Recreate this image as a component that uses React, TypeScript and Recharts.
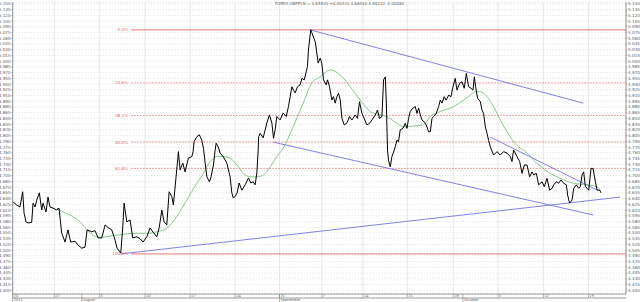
import { LineChart, Line, XAxis, YAxis, CartesianGrid, ReferenceLine } from "recharts"

// GBP/PLN, trading days counted from 20 July 2011
const price: [number, number][] = [
  [0, 4.632], [0.44, 4.623], [0.81, 4.618], [1.11, 4.658], [1.26, 4.602], [1.48, 4.579], [1.7, 4.576],
  [2.11, 4.578], [2.26, 4.628], [2.48, 4.618], [2.67, 4.636], [2.96, 4.655], [3.22, 4.61], [3.37, 4.628],
  [3.7, 4.605], [3.92, 4.644], [4.14, 4.618], [4.48, 4.615], [4.89, 4.61], [5.14, 4.615], [5.44, 4.55],
  [5.81, 4.526], [6.14, 4.558], [6.44, 4.526], [6.92, 4.528], [7.26, 4.518], [7.67, 4.51], [8.03, 4.513],
  [8.26, 4.558], [8.78, 4.553], [9.14, 4.556], [9.48, 4.537], [9.89, 4.537], [10.26, 4.571], [10.59, 4.564],
  [11.0, 4.558], [11.37, 4.531], [11.59, 4.51], [12.0, 4.497], [12.22, 4.566], [12.37, 4.628], [12.67, 4.579],
  [13.03, 4.584], [13.33, 4.537], [13.78, 4.54], [14.14, 4.535], [14.48, 4.526], [14.89, 4.54], [15.26, 4.563],
  [15.59, 4.552], [16.0, 4.54], [16.26, 4.563], [16.56, 4.61], [16.81, 4.579], [17.11, 4.571], [17.37, 4.658],
  [17.67, 4.645], [17.84, 4.623], [18.14, 4.697], [18.4, 4.763], [18.59, 4.715], [18.89, 4.733], [19.14, 4.71],
  [19.51, 4.746], [19.89, 4.75], [20.03, 4.763], [20.14, 4.789], [20.44, 4.802], [20.73, 4.807], [21.0, 4.793],
  [21.18, 4.772], [21.37, 4.733], [21.56, 4.697], [21.84, 4.684], [22.0, 4.694], [22.29, 4.728], [22.48, 4.767],
  [22.59, 4.785], [22.81, 4.776], [23.03, 4.759], [23.37, 4.75], [23.78, 4.733], [24.14, 4.697], [24.33, 4.655],
  [24.48, 4.642], [24.7, 4.645], [24.92, 4.655], [25.14, 4.681], [25.44, 4.662], [25.81, 4.676], [26.18, 4.694],
  [26.44, 4.681], [26.7, 4.684], [26.92, 4.676], [27.11, 4.707], [27.26, 4.767], [27.31, 4.802], [27.48, 4.811],
  [27.81, 4.799], [28.22, 4.838], [28.51, 4.859], [28.78, 4.838], [28.96, 4.798], [29.14, 4.82], [29.33, 4.855],
  [29.7, 4.846], [30.03, 4.864], [30.37, 4.855], [30.62, 4.881], [30.81, 4.907], [31.0, 4.933], [31.18, 4.924],
  [31.37, 4.917], [31.62, 4.933], [31.92, 4.938], [32.11, 4.955], [32.37, 4.951], [32.59, 4.972], [32.73, 4.986],
  [32.84, 5.029], [33.09, 5.082], [33.22, 5.074], [33.59, 5.051], [33.92, 4.995], [34.14, 5.008], [34.33, 4.994],
  [34.51, 4.951], [34.81, 4.938], [34.96, 4.951], [35.18, 4.933], [35.44, 4.898], [35.62, 4.907], [35.81, 4.89],
  [36.0, 4.907], [36.18, 4.916], [36.37, 4.898], [36.56, 4.85], [36.81, 4.833], [37.11, 4.838], [37.4, 4.855],
  [37.67, 4.846], [38.03, 4.859], [38.29, 4.85], [38.51, 4.894], [38.78, 4.863], [39.03, 4.85], [39.33, 4.833],
  [39.62, 4.837], [39.89, 4.846], [40.26, 4.859], [40.51, 4.872], [40.73, 4.85], [41.0, 4.855], [41.18, 4.951],
  [41.37, 4.959], [41.48, 4.898], [41.62, 4.767], [41.73, 4.741], [41.92, 4.723], [42.11, 4.75], [42.37, 4.767],
  [42.48, 4.776], [42.67, 4.793], [42.84, 4.789], [43.03, 4.82], [43.33, 4.824], [43.59, 4.837], [43.78, 4.824],
  [43.96, 4.85], [44.14, 4.868], [44.44, 4.877], [44.7, 4.881], [44.89, 4.863], [45.07, 4.877], [45.26, 4.859],
  [45.44, 4.846], [45.7, 4.841], [45.92, 4.833], [46.18, 4.815], [46.37, 4.815], [46.56, 4.85], [46.73, 4.855],
  [47.03, 4.863], [47.29, 4.881], [47.48, 4.898], [47.67, 4.89], [47.92, 4.907], [48.14, 4.898], [48.4, 4.911],
  [48.67, 4.907], [48.89, 4.933], [49.14, 4.955], [49.33, 4.924], [49.62, 4.942], [49.89, 4.946], [50.14, 4.929],
  [50.37, 4.968], [50.62, 4.933], [50.89, 4.929], [51.11, 4.924], [51.26, 4.959], [51.4, 4.933], [51.62, 4.903],
  [51.92, 4.894], [52.11, 4.872], [52.29, 4.863], [52.48, 4.828], [52.67, 4.811], [52.84, 4.793], [53.03, 4.776],
  [53.4, 4.754], [53.78, 4.763], [54.14, 4.754], [54.51, 4.763], [54.89, 4.759], [55.26, 4.75], [55.44, 4.737],
  [55.62, 4.767], [56.0, 4.75], [56.29, 4.737], [56.56, 4.706], [56.81, 4.728], [57.11, 4.728], [57.4, 4.697],
  [57.67, 4.71], [57.84, 4.702], [58.14, 4.706], [58.4, 4.676], [58.78, 4.684], [59.03, 4.671], [59.33, 4.693],
  [59.62, 4.662], [59.89, 4.667], [60.07, 4.676], [60.37, 4.684], [60.62, 4.68], [60.89, 4.689], [61.18, 4.68],
  [61.48, 4.676], [61.62, 4.649], [61.84, 4.628], [62.11, 4.636], [62.29, 4.667], [62.59, 4.676], [62.84, 4.667],
  [63.03, 4.671], [63.22, 4.702], [63.4, 4.71], [63.59, 4.671], [63.78, 4.667], [63.96, 4.662], [64.22, 4.719],
  [64.44, 4.719], [64.7, 4.684], [64.89, 4.662], [65.18, 4.662], [65.33, 4.655],
]

const movingAvg: [number, number][] = [
  [4.89, 4.615], [5.26, 4.61], [5.81, 4.602], [6.37, 4.597], [7.48, 4.579], [8.59, 4.55], [9.33, 4.54],
  [10.07, 4.539], [10.81, 4.542], [11.92, 4.545], [13.4, 4.549], [14.89, 4.549], [16.0, 4.553], [17.11, 4.562],
  [18.22, 4.593], [19.33, 4.636], [20.44, 4.68], [21.18, 4.706], [21.92, 4.737], [22.67, 4.75], [23.4, 4.75],
  [24.14, 4.746], [24.89, 4.728], [25.62, 4.706], [26.37, 4.697], [27.11, 4.697], [27.84, 4.702], [28.59, 4.723],
  [29.33, 4.75], [30.03, 4.772], [31.14, 4.828], [32.26, 4.89], [33.22, 4.943], [34.14, 4.959], [35.26, 4.977],
  [36.37, 4.964], [37.48, 4.933], [38.59, 4.898], [39.7, 4.868], [40.81, 4.859], [41.55, 4.855], [42.67, 4.837],
  [43.4, 4.828], [44.51, 4.83], [45.62, 4.833], [46.37, 4.855], [47.48, 4.868], [48.96, 4.881], [50.07, 4.898],
  [50.81, 4.911], [51.37, 4.92], [51.92, 4.92], [52.67, 4.907], [53.4, 4.881], [54.14, 4.846], [54.89, 4.815],
  [55.62, 4.789], [56.37, 4.772], [56.73, 4.767], [58.22, 4.732], [59.7, 4.706], [60.81, 4.693], [62.29, 4.68],
  [63.78, 4.676], [64.89, 4.671], [65.26, 4.662],
]

// trend lines: start and end points
const upperChannel: [number, number][] = [[33.03, 5.082], [63.37, 4.89]]
const lowerChannel: [number, number][] = [[28.92, 4.788], [64.48, 4.597]]
const supportLine: [number, number][] = [[11.98, 4.495], [67.48, 4.644]]
const shortTrend: [number, number][] = [[53.03, 4.801], [64.92, 4.662]]

const fibLabels = ["0.0%", "23.6%", "38.2%", "50.0%", "61.8%", "100.0%"]
const fibValues = [5.082, 4.943, 4.858, 4.788, 4.719, 4.495]
const fibSolid = [true, false, false, false, false, true]
const fibStart = 13.16

const dayTicks = [0, 4.62, 9.62, 14.7, 19.7, 24.7, 29.62, 34.33, 38.89, 43.81, 48.92, 53.89, 58.92, 63.92]
const dayLabels = ["20", "27", "3", "10", "17", "24", "31", "7", "14", "21", "28", "5", "12", "19"]
const monthTicks = [0, 7.67, 29.62, 50.0]
const monthLabels = ["2011", "August", "September", "October"]

const yTicks = [
  4.4, 4.415, 4.43, 4.445, 4.46, 4.475, 4.49, 4.505, 4.52, 4.535, 4.55, 4.565, 4.58, 4.595, 4.61, 4.625, 4.64,
  4.655, 4.67, 4.685, 4.7, 4.715, 4.73, 4.745, 4.76, 4.775, 4.79, 4.805, 4.82, 4.835, 4.85, 4.865, 4.88, 4.895,
  4.91, 4.925, 4.94, 4.955, 4.97, 4.985, 5.0, 5.015, 5.03, 5.045, 5.06, 5.075, 5.09, 5.105, 5.12, 5.135, 5.15,
]

const title = "FOREX GBPPLN = 4.65520 +0.00310 4.66010 4.65210 -0.00280"

const toRows = (pts: [number, number][]) => pts.map(([t, v]) => ({ t, v }))

const AXIS = "#808080"
const LABEL = "#606060"
const FIB = "#e06868"
const TREND = "#7474e0"

function DayTick({ x, y, payload, index }: any) {
  return (
    <g>
      <line x1={x} y1={y} x2={x} y2={y + 4} stroke={AXIS} strokeWidth={0.6} />
      <text x={x + 1} y={y + 3.4} fontSize={3.6} fill={LABEL} fontFamily="DejaVu Sans">
        {dayLabels[index] ?? payload.value}
      </text>
    </g>
  )
}

function MonthTick({ x, y, index }: any) {
  return (
    <g>
      <line x1={x} y1={y - 4} x2={x} y2={y + 4} stroke={AXIS} strokeWidth={0.6} />
      <text x={x + 1} y={y + 3.4} fontSize={3.6} fill={LABEL} fontFamily="DejaVu Sans">
        {monthLabels[index]}
      </text>
    </g>
  )
}

export default function App() {
  const tickStyle = { fontSize: 4.2, fill: LABEL, fontFamily: "DejaVu Sans" }
  return (
    <div style={{ position: "absolute", left: 0, top: 0, width: 640, height: 302, background: "#fff" }}>
      <div
        style={{
          position: "absolute",
          left: 275,
          top: 1,
          fontSize: 4,
          color: "#606060",
          fontFamily: "DejaVu Sans",
          whiteSpace: "nowrap",
          zIndex: 2,
        }}
      >
        {title}
      </div>
      <LineChart width={640} height={302} margin={{ top: 2, right: 0, bottom: 0, left: 0 }}>
        <XAxis
          xAxisId="d"
          type="number"
          dataKey="t"
          domain={[0, 68.1]}
          ticks={dayTicks}
          interval={0}
          height={4}
          tickSize={0}
          tickMargin={0}
          tickLine={false}
          axisLine={{ stroke: AXIS, strokeWidth: 0.8 }}
          tick={<DayTick />}
          allowDataOverflow
        />
        <XAxis
          xAxisId="m"
          type="number"
          dataKey="t"
          domain={[0, 68.1]}
          ticks={monthTicks}
          interval={0}
          height={4}
          tickSize={0}
          tickMargin={0}
          tickLine={false}
          axisLine={{ stroke: AXIS, strokeWidth: 0.8 }}
          tick={<MonthTick />}
          allowDataOverflow
        />
        <YAxis
          yAxisId="l"
          domain={[4.39, 5.155]}
          ticks={yTicks}
          interval={0}
          width={12.7}
          tickSize={1.5}
          tickMargin={0.5}
          tickFormatter={(v: number) => v.toFixed(3)}
          tick={tickStyle}
          axisLine={{ stroke: AXIS, strokeWidth: 0.8 }}
          tickLine={{ stroke: AXIS, strokeWidth: 0.5 }}
          allowDataOverflow
        />
        <YAxis
          yAxisId="r"
          orientation="right"
          domain={[4.39, 5.155]}
          ticks={yTicks}
          interval={0}
          width={14}
          tickSize={1.5}
          tickMargin={0.5}
          tickFormatter={(v: number) => v.toFixed(3)}
          tick={tickStyle}
          axisLine={{ stroke: AXIS, strokeWidth: 0.8 }}
          tickLine={{ stroke: AXIS, strokeWidth: 0.5 }}
          allowDataOverflow
        />
        <CartesianGrid xAxisId="d" yAxisId="l" vertical={false} stroke="#c4c4c4" strokeDasharray="1 2" strokeWidth={0.6} />
        <CartesianGrid xAxisId="d" yAxisId="l" horizontal={false} stroke="#dcdcdc" strokeWidth={0.7} />
        {fibValues.map((v, i) => (
          <ReferenceLine
            key={fibLabels[i]}
            xAxisId="d"
            yAxisId="l"
            segment={[
              { x: fibStart, y: v },
              { x: 68.1, y: v },
            ]}
            stroke={FIB}
            strokeWidth={fibSolid[i] ? 0.9 : 0.8}
            strokeDasharray={fibSolid[i] ? undefined : "1.5 1.5"}
            label={{ value: fibLabels[i], position: "left", offset: 3, fill: FIB, fontSize: 4.2, fontFamily: "DejaVu Sans" }}
          />
        ))}
        {[upperChannel, lowerChannel, supportLine, shortTrend].map((seg, i) => (
          <Line
            key={"trend" + i}
            xAxisId="d"
            yAxisId="l"
            data={toRows(seg)}
            dataKey="v"
            type="linear"
            stroke={TREND}
            strokeWidth={0.9}
            dot={false}
            activeDot={false}
            isAnimationActive={false}
          />
        ))}
        <Line
          xAxisId="d"
          yAxisId="l"
          data={toRows(movingAvg)}
          dataKey="v"
          type="monotone"
          stroke="#70b870"
          strokeWidth={0.8}
          dot={false}
          activeDot={false}
          isAnimationActive={false}
        />
        <Line
          xAxisId="d"
          yAxisId="l"
          data={toRows(price)}
          dataKey="v"
          type="linear"
          stroke="#000"
          strokeWidth={1}
          dot={false}
          activeDot={false}
          isAnimationActive={false}
        />
      </LineChart>
    </div>
  )
}
